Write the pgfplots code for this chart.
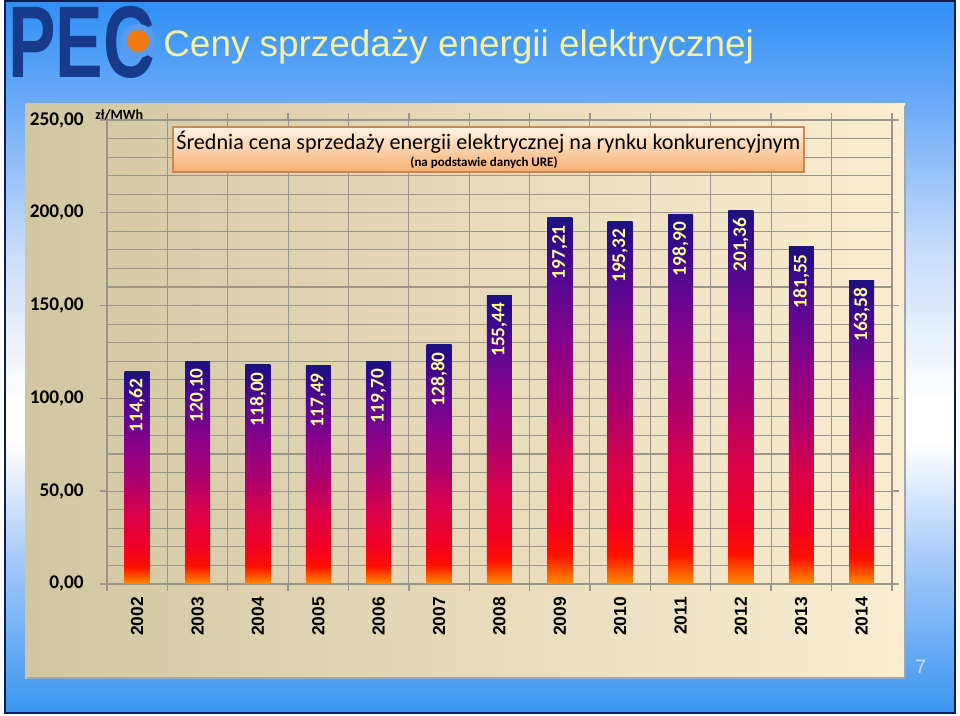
\documentclass[border=0pt]{standalone}
\usepackage{pgfplots}
\pgfplotsset{compat=1.18}
\usepackage{fontspec}
\setmainfont{Carlito}
\newfontfamily\arialfont{Liberation Sans}

\definecolor{gridc}{HTML}{9A968C}
\definecolor{labyellow}{HTML}{FFFF99}
\definecolor{titleyel}{HTML}{F6F2A2}
\definecolor{logoblue}{HTML}{173A8A}
\definecolor{ringblue}{HTML}{5A9AE8}
\definecolor{logoorange}{HTML}{F07A10}
\definecolor{framec}{HTML}{0E1E55}
\definecolor{panelL}{HTML}{D3C6A2}
\definecolor{panelR}{HTML}{FBEDD2}
\definecolor{boxtop}{HTML}{FFF3E2}
\definecolor{boxbot}{HTML}{F6AE72}
\definecolor{boxborder}{HTML}{C88A50}
% bar gradient
\definecolor{b0}{HTML}{FF8C00}
\definecolor{b1}{HTML}{FF1000}
\definecolor{b2}{HTML}{F00024}
\definecolor{b3}{HTML}{D8004A}
\definecolor{b4}{HTML}{AA0070}
\definecolor{b5}{HTML}{8A0088}
\definecolor{b6}{HTML}{5A0890}
\definecolor{b7}{HTML}{2A0A8A}
\definecolor{b8}{HTML}{1E1280}
\pgfdeclareverticalshading{barshade}{100bp}{color(0bp)=(b0); color(25bp)=(b0);
  color(29bp)=(b1); color(33.5bp)=(b2); color(41.5bp)=(b3); color(49.5bp)=(b4);
  color(57.5bp)=(b5); color(65.5bp)=(b6); color(73bp)=(b7); color(75bp)=(b8); color(100bp)=(b8)}
% slide background
\definecolor{s0}{HTML}{2F8FF5}
\definecolor{s1}{HTML}{6AAAF8}
\definecolor{s2}{HTML}{C8DCFA}
\definecolor{s3}{HTML}{FFFFFF}
\definecolor{s4}{HTML}{A8CBFA}
\definecolor{s5}{HTML}{3A95F0}
\pgfdeclareverticalshading{slidebg}{100bp}{color(0bp)=(s5); color(25bp)=(s5);
  color(36bp)=(s4); color(44bp)=(s3); color(47bp)=(s3); color(57.5bp)=(s2);
  color(68bp)=(s1); color(75bp)=(s0); color(100bp)=(s0)}

\begin{document}
\begin{tikzpicture}
\begin{scope}[x=0.02cm, y=-0.02cm]
  \fill[white] (0,0) rectangle (960,716);
  \shade[shading=slidebg] (5,1) rectangle (955,713);
  \shade[left color=panelL, right color=panelR] (25,104) rectangle (905,678);
  \draw[gray!70, line width=0.8pt] (905,106) -- (905,678) -- (27,678);
\end{scope}

\begin{axis}[
    at={(2.14cm,-11.68cm)}, anchor=south west,
    scale only axis, width=15.7cm, height=9.28cm,
    bar width=0.5cm,
    xmin=-0.5, xmax=12.5, ymin=0, ymax=250,
    xtick={0,1,2,3,4,5,6,7,8,9,10,11,12},
    xticklabels={2002,2003,2004,2005,2006,2007,2008,2009,2010,2011,2012,2013,2014},
    minor xtick={-0.5,0.5,...,12.5},
    ytick={0,50,100,150,200,250},
    minor y tick num=4,
    xminorgrids, ymajorgrids, yminorgrids,
    major x tick style={draw=none},
    minor y tick style={draw=none},
    tick align=outside,
    major tick length=0.14cm, minor tick length=0.14cm,
    axis line style={gridc, line width=0.8pt},
    every tick/.style={gridc, line width=0.8pt},
    every minor tick/.style={gridc, line width=0.8pt},
    grid style={gridc, line width=0.6pt},
    minor grid style={gridc, line width=0.6pt},
    xticklabel style={rotate=90, anchor=east, font=\arialfont\bfseries\fontsize{9.9}{11}\selectfont},
    yticklabel style={xshift=-0.2cm, font=\bfseries\fontsize{11}{12}\selectfont,
      /pgf/number format/fixed, /pgf/number format/fixed zerofill,
      /pgf/number format/precision=2, /pgf/number format/use comma,
      /pgf/number format/assume math mode=true},
    nodes near coords={\pgfmathprintnumber[fixed, fixed zerofill, precision=2, use comma, assume math mode=true]{\pgfplotspointmeta}},
    every node near coord/.append style={rotate=90, anchor=east, inner sep=4pt,
      text=labyellow, font=\bfseries\fontsize{11}{12}\selectfont},
    bar/.style={ybar, draw=none, shade, shading=barshade},
  ]
  % one plot per year, so that each bar gets its own gradient
  \addplot[bar] coordinates {(0,114.62)};
  \addplot[bar] coordinates {(1,120.10)};
  \addplot[bar] coordinates {(2,118.00)};
  \addplot[bar] coordinates {(3,117.49)};
  \addplot[bar] coordinates {(4,119.70)};
  \addplot[bar] coordinates {(5,128.80)};
  \addplot[bar] coordinates {(6,155.44)};
  \addplot[bar] coordinates {(7,197.21)};
  \addplot[bar] coordinates {(8,195.32)};
  \addplot[bar] coordinates {(9,198.90)};
  \addplot[bar] coordinates {(10,201.36)};
  \addplot[bar] coordinates {(11,181.55)};
  \addplot[bar] coordinates {(12,163.58)};
\end{axis}

\begin{scope}[x=0.02cm, y=-0.02cm]
  % chart title box
  \draw[boxborder, line width=0.6pt, top color=boxtop, bottom color=boxbot] (173,127) rectangle (804,172);
  \node[anchor=base west, inner sep=0pt, font=\fontsize{12.6}{14}\selectfont] at (176,150)
    {Średnia cena sprzedaży energii elektrycznej na rynku konkurencyjnym};
  \node[anchor=base, inner sep=0pt, font=\bfseries\fontsize{7.4}{8}\selectfont] at (484,167)
    {(na podstawie danych URE)};
  \node[anchor=base west, inner sep=0pt, font=\bfseries\fontsize{8}{9}\selectfont] at (95,120) {zł/MWh};
  % slide header
  \node[anchor=base west, inner sep=0pt, xscale=0.7, text=logoblue,
    font=\arialfont\bfseries\fontsize{58}{60}\selectfont] at (8,78) {PEC};
  \fill[ringblue] (138,41) circle (17);
  \fill[logoorange] (138,41) circle (11);
  \node[anchor=base west, inner sep=0pt, text=titleyel, font=\arialfont\fontsize{21}{25}\selectfont]
    at (163,57) {Ceny sprzedaży energii elektrycznej};
  \node[anchor=base west, inner sep=0pt, text=white!85!blue, font=\arialfont\fontsize{11}{13}\selectfont]
    at (915,673) {7};
  \draw[framec, line width=1.2pt] (5,1) rectangle (955,713);
  \pgfresetboundingbox
  \path (0,0) rectangle (960,716);
\end{scope}
\end{tikzpicture}
\end{document}
